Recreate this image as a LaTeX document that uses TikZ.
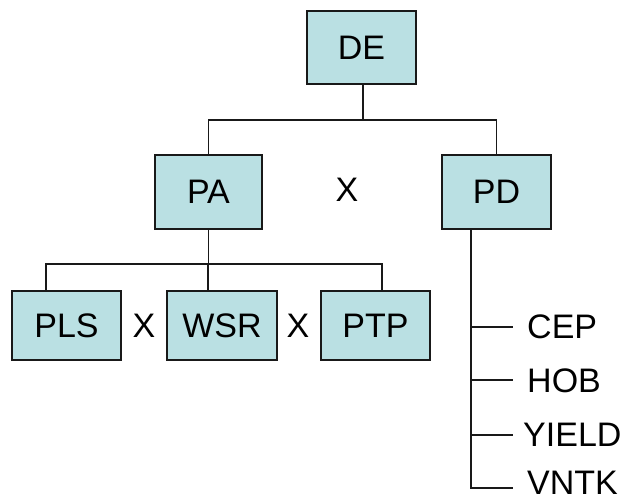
\documentclass[tikz,border=0pt]{standalone}
\usepackage{fontspec}
\setmainfont{Liberation Sans}
\definecolor{boxfill}{RGB}{186,224,227}
\definecolor{boxline}{RGB}{25,25,25}
\begin{document}
\begin{tikzpicture}[x=1pt,y=-1pt,
  box/.style={draw=boxline,line width=1.9pt,fill=boxfill,inner sep=0pt,
    font=\fontsize{34}{35}\selectfont},
  lbl/.style={font=\fontsize{34}{35}\selectfont,inner sep=0pt},
  conn/.style={line width=1.9pt,draw=boxline}]
\useasboundingbox (0,0) rectangle (632,500);
\node[box,minimum width=109pt,minimum height=73pt] (DE) at (361.5,47.5) {DE};
\node[box,minimum width=107pt,minimum height=74pt] (PA) at (208.5,192) {PA};
\node[box,minimum width=109pt,minimum height=74pt] (PD) at (496.5,192) {PD};
\node[lbl] (X1) at (347,190) {X};
\node[box,minimum width=109pt,minimum height=69pt] (PLS) at (66.5,325.5) {PLS};
\node[box,minimum width=110pt,minimum height=69pt] (WSR) at (222,325.5) {WSR};
\node[box,minimum width=109pt,minimum height=69pt] (PTP) at (375.5,325.5) {PTP};
\node[lbl] (X2) at (144,326) {X};
\node[lbl] (X3) at (298,326) {X};
\coordinate (j1) at (363,120);
\coordinate (j2) at (208,264);
\draw[conn] (DE.south -| j1) -- (j1);
\draw[conn] (PA.north) -- (PA.north |- j1) -- (PD.north |- j1) -- (PD.north);
\draw[conn] (PA.south) -- (PA.south |- j2);
\draw[conn] (PLS.north -| 46,0) -- (46,264) -- (382,264) -- (PTP.north -| 382,0);
\draw[conn] (WSR.north -| j2) -- (j2);
\node[lbl,anchor=west] (CEP) at (527,327) {CEP};
\node[lbl,anchor=west] (HOB) at (527,381) {HOB};
\node[lbl,anchor=west] (YIELD) at (523,435) {YIELD};
\node[lbl,anchor=base west] (VNTK) at (527,494) {VNTK};
\coordinate (v) at (471,488);
\draw[conn] (PD.south -| v) -- (v) -- (513,488);
\draw[conn] (471,327) -- (513,327);
\draw[conn] (471,380) -- (513,380);
\draw[conn] (471,435) -- (513,435);
\end{tikzpicture}
\end{document}
